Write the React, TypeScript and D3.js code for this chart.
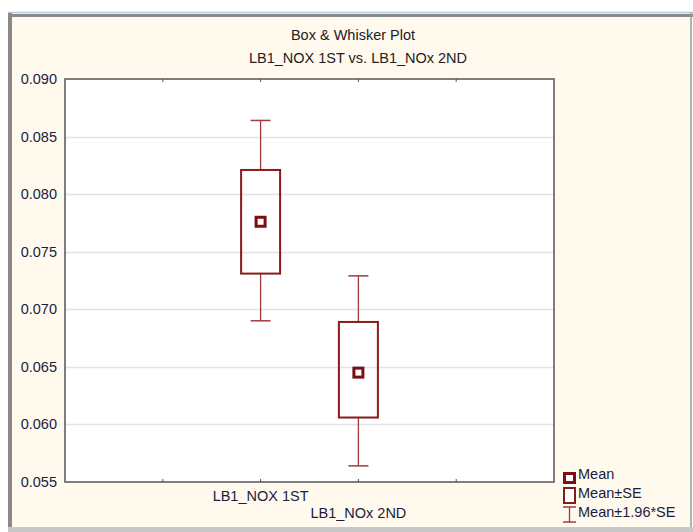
import { useEffect, useRef } from "react";
import * as d3 from "d3";

// data
const categories = ["LB1_NOX 1ST", "LB1_NOx 2ND"];
const categoryPos = [2, 3];
const means = [0.0776, 0.0645];
const seLow = [0.0731, 0.0606];
const seHigh = [0.0821, 0.0689];
const ciLow = [0.0690, 0.0564];
const ciHigh = [0.0864, 0.0729];
const yTicks = [0.055, 0.06, 0.065, 0.07, 0.075, 0.08, 0.085, 0.09];
const legendLabels = ["Mean", "Mean±SE", "Mean±1.96*SE"];

const W = 693;
const H = 532;
const plot = { left: 65, right: 554, top: 79, bottom: 482 };
const dark = "#8b1a1a";
const whisk = "#a33b3b";
const txt = "#1c1c40";
const font = "'Liberation Sans', Arial, sans-serif";
const fs = 14.5;

export default function App() {
  const ref = useRef<SVGGElement>(null);

  useEffect(() => {
    const g = d3.select(ref.current);
    g.selectAll("*").remove();

    const y = d3.scaleLinear().domain([0.055, 0.09]).range([plot.bottom, plot.top]);
    const x = d3.scaleLinear().domain([0, 5]).range([plot.left, plot.right]);

    // frame / window chrome
    g.append("rect").attr("x", 0).attr("y", 0).attr("width", W).attr("height", H).attr("fill", "#ffffff");
    g.append("rect").attr("x", 8).attr("y", 12).attr("width", 684).attr("height", 520).attr("fill", "#fff9ee");
    g.append("line").attr("x1", 8).attr("x2", 693).attr("y1", 12.5).attr("y2", 12.5).attr("stroke", "#b8c8e0").attr("stroke-width", 1.5);
    g.append("line").attr("x1", 8).attr("x2", 693).attr("y1", 15.5).attr("y2", 15.5).attr("stroke", "#8a8a8a").attr("stroke-width", 3);
    g.append("line").attr("x1", 10).attr("x2", 10).attr("y1", 13).attr("y2", 532).attr("stroke", "#8a8a8a").attr("stroke-width", 4);
    g.append("line").attr("x1", 691).attr("x2", 691).attr("y1", 13).attr("y2", 532).attr("stroke", "#9a9a9a").attr("stroke-width", 1.5);
    g.append("rect").attr("x", 8).attr("y", 527).attr("width", 685).attr("height", 5).attr("fill", "#c8c8c8");

    // titles
    g.append("text").attr("x", 353).attr("y", 40).attr("text-anchor", "middle")
      .attr("font-family", font).attr("font-size", fs).attr("fill", "#222")
      .text("Box & Whisker Plot");
    g.append("text").attr("x", 358).attr("y", 63).attr("text-anchor", "middle")
      .attr("font-family", font).attr("font-size", fs).attr("fill", "#222")
      .text("LB1_NOX 1ST vs. LB1_NOx 2ND");

    // plot area
    g.append("rect").attr("x", plot.left).attr("y", plot.top)
      .attr("width", plot.right - plot.left).attr("height", plot.bottom - plot.top)
      .attr("fill", "#ffffff");

    g.selectAll(".grid").data(yTicks.slice(1, -1)).join("line")
      .attr("x1", plot.left).attr("x2", plot.right)
      .attr("y1", d => Math.round(y(d)) + 0.5).attr("y2", d => Math.round(y(d)) + 0.5)
      .attr("stroke", "#e2e2e2").attr("stroke-width", 1.5);

    g.selectAll(".ylab").data(yTicks).join("text")
      .attr("x", 57).attr("y", d => y(d) + 5).attr("text-anchor", "end")
      .attr("font-family", font).attr("font-size", fs).attr("fill", txt)
      .text(d3.format(".3f"));

    g.append("rect").attr("x", plot.left).attr("y", plot.top)
      .attr("width", plot.right - plot.left).attr("height", plot.bottom - plot.top)
      .attr("fill", "none").attr("stroke", "#555").attr("stroke-width", 1.5);

    // small ticks on top and bottom edges
    [1, 2, 3, 4].forEach(t => {
      g.append("line").attr("x1", x(t)).attr("x2", x(t)).attr("y1", plot.top).attr("y2", plot.top + 3).attr("stroke", "#555");
      g.append("line").attr("x1", x(t)).attr("x2", x(t)).attr("y1", plot.bottom).attr("y2", plot.bottom - 3).attr("stroke", "#555");
    });

    // x labels, staggered
    categories.forEach((c, i) => {
      g.append("text").attr("x", x(categoryPos[i])).attr("y", 501 + i * 17).attr("text-anchor", "middle")
        .attr("font-family", font).attr("font-size", fs).attr("fill", txt).text(c);
    });

    const boxW = 39;
    const capW = 20;
    categories.forEach((_, i) => {
      const cx = x(categoryPos[i]);
      // whiskers
      g.append("line").attr("x1", cx).attr("x2", cx).attr("y1", y(ciHigh[i])).attr("y2", y(seHigh[i]))
        .attr("stroke", whisk).attr("stroke-width", 1.3);
      g.append("line").attr("x1", cx).attr("x2", cx).attr("y1", y(seLow[i])).attr("y2", y(ciLow[i]))
        .attr("stroke", whisk).attr("stroke-width", 1.3);
      [ciHigh[i], ciLow[i]].forEach(v => {
        g.append("line").attr("x1", cx - capW / 2).attr("x2", cx + capW / 2).attr("y1", y(v)).attr("y2", y(v))
          .attr("stroke", whisk).attr("stroke-width", 1.5);
      });
      // box
      g.append("rect").attr("x", cx - boxW / 2).attr("y", y(seHigh[i]))
        .attr("width", boxW).attr("height", y(seLow[i]) - y(seHigh[i]))
        .attr("fill", "none").attr("stroke", dark).attr("stroke-width", 2);
      // mean marker
      g.append("rect").attr("x", cx - 4.5).attr("y", y(means[i]) - 4.5).attr("width", 9).attr("height", 9)
        .attr("fill", "#fff").attr("stroke", "#7a1010").attr("stroke-width", 3);
    });

    // legend
    const lx = 563;
    const ly = [478, 495, 514];
    g.append("rect").attr("x", lx + 1.5).attr("y", ly[0] - 4.5).attr("width", 10).attr("height", 9)
      .attr("fill", "#fff").attr("stroke", "#7a1010").attr("stroke-width", 3);
    g.append("rect").attr("x", lx + 1).attr("y", ly[1] - 7).attr("width", 11).attr("height", 15)
      .attr("fill", "#fff").attr("stroke", dark).attr("stroke-width", 2);
    g.append("line").attr("x1", lx + 6.5).attr("x2", lx + 6.5).attr("y1", ly[2] - 7).attr("y2", ly[2] + 8).attr("stroke", whisk).attr("stroke-width", 1.3);
    [ly[2] - 7, ly[2] + 8].forEach(v => {
      g.append("line").attr("x1", lx).attr("x2", lx + 13).attr("y1", v).attr("y2", v).attr("stroke", whisk).attr("stroke-width", 1.5);
    });
    const textY = [479, 498, 517];
    legendLabels.forEach((l, i) => {
      g.append("text").attr("x", 578).attr("y", textY[i]).attr("font-family", font)
        .attr("font-size", fs).attr("fill", txt).text(l);
    });
  }, []);

  return (
    <div style={{ position: "absolute", left: 0, top: 0 }}>
      <svg width={W} height={H} viewBox={`0 0 ${W} ${H}`}>
        <g ref={ref}></g>
      </svg>
    </div>
  );
}
